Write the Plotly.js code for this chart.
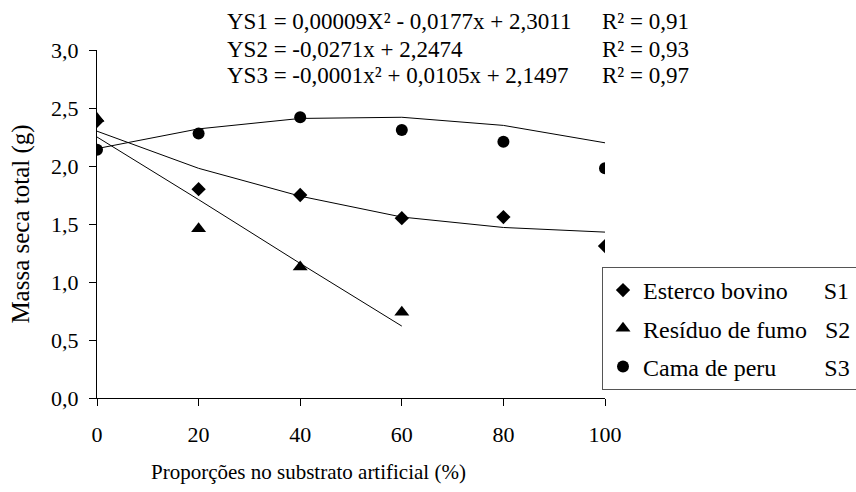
<!DOCTYPE html>
<html>
<head>
<meta charset="utf-8">
<script src="https://cdn.plot.ly/plotly-3.0.1.min.js"></script>
<style>html,body{margin:0;padding:0;background:#fff;}#chart{width:856px;height:492px;}</style>
</head>
<body>
<div id="chart"></div>
<script>
// Proportions in the artificial substrate (%)
const proportions = [0, 20, 40, 60, 80, 100];
const proportionsS2 = [0, 20, 40, 60];
// Observed total dry mass (g)
const esterco = [2.39, 1.80, 1.75, 1.55, 1.56, 1.31];      // S1
const residuo = [2.41, 1.46, 1.13, 0.74];                  // S2
const cama = [2.14, 2.28, 2.42, 2.31, 2.21, 1.98];         // S3
// Trend lines
const fitS1 = [2.30, 1.98, 1.74, 1.56, 1.47, 1.43];
const fitS2 = [2.25, 1.71, 1.16, 0.62];
const fitS3 = [2.15, 2.32, 2.41, 2.42, 2.35, 2.20];
// Legend names and equations
const NB = n => '\u00A0'.repeat(n);
const legendNames = ["Esterco bovino" + NB(6) + "S1",
                     "Resíduo de fumo" + NB(3) + "S2",
                     "Cama de peru" + NB(8) + "S3"];
const equations = ["YS1 = 0,00009X² - 0,0177x + 2,3011",
                   "YS2 = -0,0271x + 2,2474",
                   "YS3 = -0,0001x² + 0,0105x + 2,1497"];
const r2 = ["R² = 0,91", "R² = 0,93", "R² = 0,97"];
const yTicks = [0, 0.5, 1, 1.5, 2, 2.5, 3];
const xTicks = [0, 20, 40, 60, 80, 100];
const xTitle = 'Proporções no substrato artificial (%)';
const yTitle = 'Massa seca total (g)';

const FONT = '"Liberation Serif", "Times New Roman", Times, serif';
const lineStyle = {color: '#000', width: 1};

const traces = [
  {x: proportions, y: fitS1, mode: 'lines', line: lineStyle, showlegend: false, hoverinfo: 'skip'},
  {x: proportionsS2, y: fitS2, mode: 'lines', line: lineStyle, showlegend: false, hoverinfo: 'skip'},
  {x: proportions, y: fitS3, mode: 'lines', line: lineStyle, showlegend: false, hoverinfo: 'skip'},
  {x: proportions, y: esterco, name: legendNames[0], legendgroup: 'a', mode: 'markers',
   marker: {symbol: 'diamond', size: 11, color: '#000'}},
  {x: proportionsS2, y: residuo, name: legendNames[1], legendgroup: 'b', mode: 'markers',
   marker: {symbol: 'triangle-up', size: 13, color: '#000'}},
  {x: proportions, y: cama, name: legendNames[2], legendgroup: 'c', mode: 'markers',
   marker: {symbol: 'circle', size: 12, color: '#000'}}
];

const L = 97, R = 605, T = 50, B = 398;
const px = v => (v - L) / (R - L);
const py = v => (B - v) / (B - T);

const annotations = [];
const eqY = [21, 49, 76];
equations.forEach((t, i) => {
  annotations.push({text: t, xref: 'paper', yref: 'paper', x: px(225), y: py(eqY[i]),
    xanchor: 'left', yanchor: 'middle', showarrow: false, font: {family: FONT, size: 23, color: '#000'}});
  annotations.push({text: r2[i], xref: 'paper', yref: 'paper', x: px(600), y: py(eqY[i]),
    xanchor: 'left', yanchor: 'middle', showarrow: false, font: {family: FONT, size: 23, color: '#000'}});
});
annotations.push({text: xTitle, xref: 'paper', yref: 'paper', x: px(308), y: py(472),
  xanchor: 'center', yanchor: 'middle', showarrow: false, font: {family: FONT, size: 21, color: '#000'}});

const layout = {
  width: 856, height: 492,
  margin: {l: L, r: 856 - R, t: T, b: 492 - B, autoexpand: false},
  paper_bgcolor: '#fff', plot_bgcolor: '#fff',
  separators: ',.',
  font: {family: FONT, size: 22, color: '#000'},
  showlegend: true,
  legend: {x: px(602), y: py(267), xanchor: 'left', yanchor: 'top',
    bgcolor: '#fff', bordercolor: '#555', borderwidth: 1,
    font: {family: FONT, size: 24, color: '#000'}, tracegroupgap: 4, traceorder: 'grouped'},
  xaxis: {range: [0, 100], tickvals: xTicks, ticks: 'outside', ticklen: 7, tickcolor: '#000',
    showline: true, linecolor: '#000', linewidth: 1, showgrid: false, zeroline: false,
    tickfont: {family: FONT, size: 22}, ticklabelstandoff: 10},
  yaxis: {range: [0, 3], tickvals: yTicks, tickformat: '.1f', ticks: 'outside', ticklen: 7, tickcolor: '#000',
    showline: true, linecolor: '#000', linewidth: 1, showgrid: false, zeroline: false,
    tickfont: {family: FONT, size: 22}, ticklabelstandoff: 6,
    title: {text: yTitle, font: {family: FONT, size: 25}, standoff: 14}},
  annotations: annotations
};

Plotly.newPlot('chart', traces, layout, {displayModeBar: false, staticPlot: true});
</script>
</body>
</html>
